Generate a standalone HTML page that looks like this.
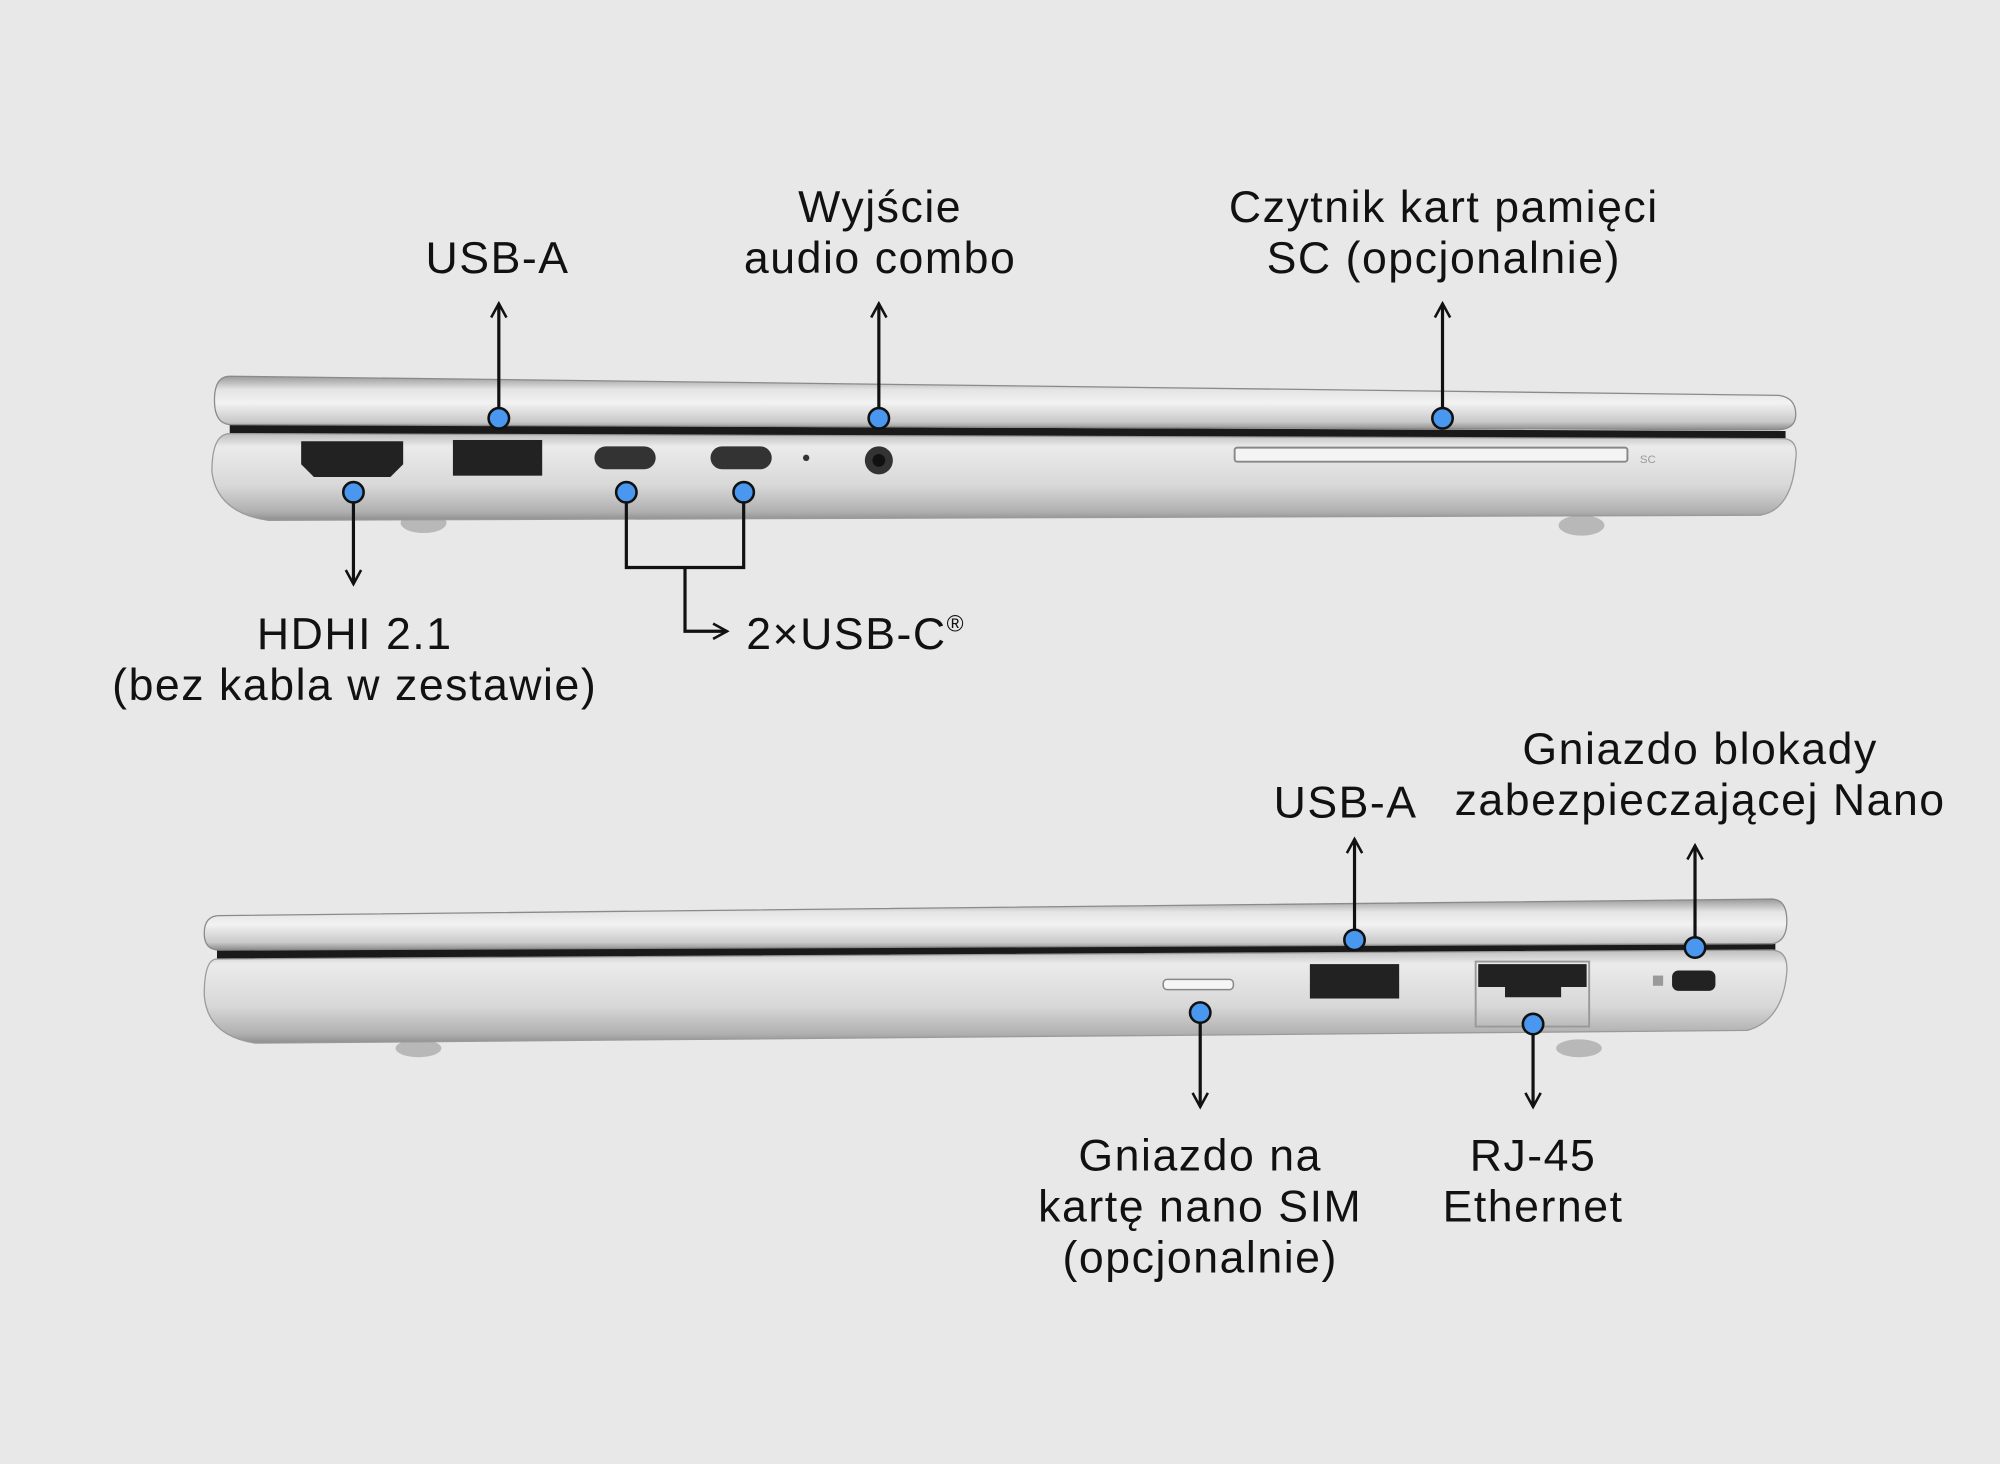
<!DOCTYPE html>
<html><head><meta charset="utf-8"><style>
html,body{margin:0;padding:0;background:#e8e8e8;}
svg{display:block}
text{font-family:"Liberation Sans",sans-serif;font-size:35px;letter-spacing:1.2px;fill:#111;text-anchor:middle}
</style></head><body>
<svg width="2000" height="1464" viewBox="0 0 1568 1148" xmlns="http://www.w3.org/2000/svg">
<defs>
<linearGradient id="lid" x1="0" y1="0" x2="0" y2="1">
<stop offset="0" stop-color="#9a9a9a"/><stop offset="0.25" stop-color="#e4e4e4"/><stop offset="0.5" stop-color="#f2f2f2"/><stop offset="0.85" stop-color="#c9c9c9"/><stop offset="1" stop-color="#8c8c8c"/></linearGradient>
<linearGradient id="base" x1="0" y1="0" x2="0" y2="1">
<stop offset="0" stop-color="#bdbdbd"/><stop offset="0.15" stop-color="#ebebeb"/><stop offset="0.6" stop-color="#d8d8d8"/><stop offset="0.9" stop-color="#b0b0b0"/><stop offset="1" stop-color="#8e8e8e"/></linearGradient>
<marker id="ah" markerWidth="14" markerHeight="14" refX="12" refY="7" orient="auto" markerUnits="userSpaceOnUse">
<path d="M1,1 L12,7 L1,13" fill="none" stroke="#111" stroke-width="2"/></marker>
</defs>
<rect width="1568" height="1148" fill="#e8e8e8"/>

<!-- top laptop -->
<ellipse cx="332" cy="410" rx="18" ry="8" fill="#b8b8b8"/>
<ellipse cx="1240" cy="412" rx="18" ry="8" fill="#b8b8b8"/>
<path d="M180,333 L1400,338 L1400,348 L180,343 Z" fill="#1a1a1a"/>
<path d="M180,340 L1400,344 Q1410,346 1408,360 Q1405,400 1380,404 L210,408 Q170,402 166,370 Q166,340 180,340 Z" fill="url(#base)" stroke="#9a9a9a" stroke-width="1"/>
<path d="M180,295 L1395,310 Q1408,312 1408,325 Q1408,336 1395,337 L180,333 Q168,332 168,314 Q168,295 180,295 Z" fill="url(#lid)" stroke="#8a8a8a" stroke-width="1"/>
<path d="M236,346 L316,346 L316,364 L306,374 L246,374 L236,364 Z" fill="#222"/>
<rect x="355" y="345" width="70" height="28" fill="#222"/>
<rect x="466" y="350" width="48" height="18" rx="9" fill="#333"/>
<rect x="557" y="350" width="48" height="18" rx="9" fill="#333"/>
<circle cx="632" cy="359" r="2.5" fill="#333"/>
<circle cx="689" cy="361" r="11" fill="#333"/><circle cx="689" cy="361" r="5" fill="#111"/>
<rect x="968" y="351" width="308" height="11" rx="2" fill="#f4f4f4" stroke="#888" stroke-width="1.5"/>
<text x="1292" y="363" style="font-size:9px;fill:#999;letter-spacing:0">SC</text>

<g stroke="#111" stroke-width="2.5" fill="none">
<line x1="391" y1="328" x2="391" y2="238" marker-end="url(#ah)"/>
<line x1="689" y1="328" x2="689" y2="238" marker-end="url(#ah)"/>
<line x1="1131" y1="328" x2="1131" y2="238" marker-end="url(#ah)"/>
<line x1="277" y1="386" x2="277" y2="458" marker-end="url(#ah)"/>
<path d="M491,386 L491,445 L583,445 L583,386"/>
<path d="M537,445 L537,495 L570,495" marker-end="url(#ah)"/>
</g>
<g fill="#4a97f0" stroke="#111" stroke-width="2">
<circle cx="391" cy="328" r="8"/><circle cx="689" cy="328" r="8"/><circle cx="1131" cy="328" r="8"/>
<circle cx="277" cy="386" r="8"/><circle cx="491" cy="386" r="8"/><circle cx="583" cy="386" r="8"/>
</g>
<text x="390" y="214">USB-A</text>
<text x="690" y="174">Wyjście</text><text x="690" y="214">audio combo</text>
<text x="1132" y="174">Czytnik kart pamięci</text><text x="1132" y="214">SC (opcjonalnie)</text>
<text x="278" y="509">HDHI 2.1</text><text x="278" y="549">(bez kabla w zestawie)</text>
<text x="585" y="509" style="text-anchor:start">2×USB-C<tspan style="font-size:18px" dy="-14">®</tspan></text>

<!-- bottom laptop -->
<ellipse cx="328" cy="822" rx="18" ry="7" fill="#b8b8b8"/>
<ellipse cx="1238" cy="822" rx="18" ry="7" fill="#b8b8b8"/>
<path d="M170,742 L1392,740 L1392,750 L170,752 Z" fill="#1a1a1a"/>
<path d="M170,752 L1390,745 Q1402,746 1401,762 Q1398,800 1370,808 L200,818 Q162,812 160,780 Q160,752 170,752 Z" fill="url(#base)" stroke="#9a9a9a" stroke-width="1"/>
<path d="M172,718 L1390,705 Q1401,706 1401,722 Q1401,738 1390,740 L172,745 Q160,745 160,732 Q160,718 172,718 Z" fill="url(#lid)" stroke="#8a8a8a" stroke-width="1"/>
<rect x="912" y="768" width="55" height="8" rx="3" fill="#f6f6f6" stroke="#888" stroke-width="1.2"/>
<rect x="1027" y="756" width="70" height="27" fill="#222"/>
<path d="M1157,754 L1246,754 L1246,805 L1157,805 Z" fill="none" stroke="#999" stroke-width="1.5"/>
<path d="M1159,756 L1244,756 L1244,774 L1224,774 L1224,782 L1180,782 L1180,774 L1159,774 Z" fill="#222"/>
<rect x="1311" y="761" width="34" height="16" rx="5" fill="#222"/>
<rect x="1296" y="765" width="8" height="8" fill="#999"/>

<g stroke="#111" stroke-width="2.5" fill="none">
<line x1="1062" y1="737" x2="1062" y2="658" marker-end="url(#ah)"/>
<line x1="1329" y1="743" x2="1329" y2="663" marker-end="url(#ah)"/>
<line x1="941" y1="794" x2="941" y2="868" marker-end="url(#ah)"/>
<line x1="1202" y1="803" x2="1202" y2="868" marker-end="url(#ah)"/>
</g>
<g fill="#4a97f0" stroke="#111" stroke-width="2">
<circle cx="1062" cy="737" r="8"/><circle cx="1329" cy="743" r="8"/>
<circle cx="941" cy="794" r="8"/><circle cx="1202" cy="803" r="8"/>
</g>
<text x="1055" y="641">USB-A</text>
<text x="1333" y="599">Gniazdo blokady</text><text x="1333" y="639">zabezpieczającej Nano</text>
<text x="941" y="918">Gniazdo na</text><text x="941" y="958">kartę nano SIM</text><text x="941" y="998">(opcjonalnie)</text>
<text x="1202" y="918">RJ-45</text><text x="1202" y="958">Ethernet</text>
</svg>
</body></html>
